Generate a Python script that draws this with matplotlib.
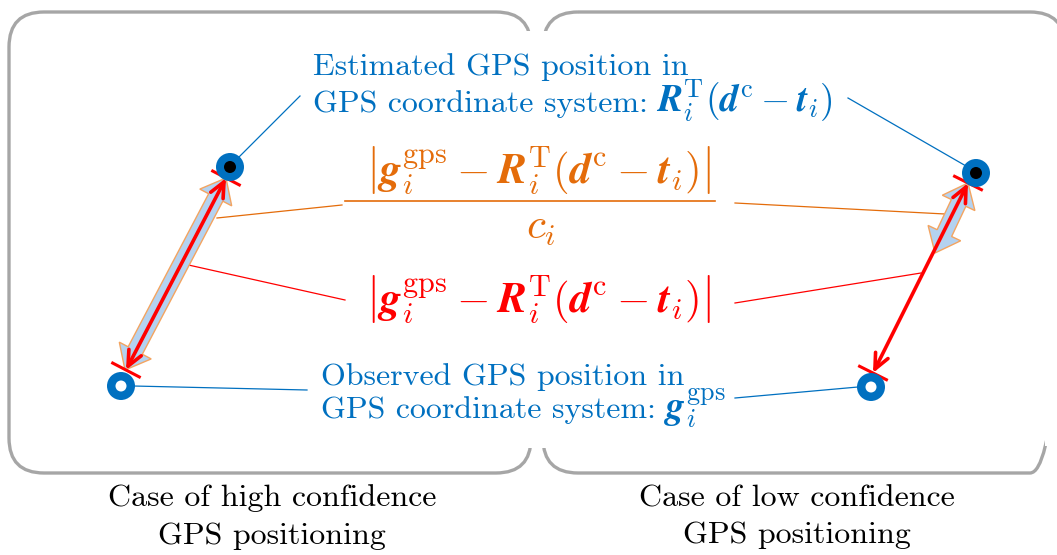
import numpy as np
import matplotlib
matplotlib.use("Agg")
import matplotlib.pyplot as plt
from matplotlib.patches import FancyBboxPatch, Rectangle, Circle, Polygon, FancyArrowPatch

plt.rcParams['font.family'] = 'serif'
plt.rcParams['font.serif'] = ['cmr10']
plt.rcParams['mathtext.fontset'] = 'cm'
plt.rcParams['axes.formatter.use_mathtext'] = True

BLUE = '#0070C0'
ORANGE = '#E46C0A'
RED = '#FF0000'
GREY = '#A6A6A6'

# panels (pixel units)
panel_x = [9, 543]
panel_w = [522, 522]
panel_top, panel_bottom = 12, 473

# gps points: estimated (black centre) and observed (white centre)
estimated_pts = [(230, 167), (976, 173)]
observed_pts = [(121, 386), (871, 387)]

# weighted error (block arrows) and raw error (red arrows)
block_arrows = [((226, 178), (125, 370)), ((968, 183), (935, 253))]
red_arrows = [((226, 178), (126, 370)), ((968, 183), (873, 373))]

# leader lines
blue_leaders = [((236, 160), (300, 96)), ((848, 98), (966, 166)),
                ((133, 386), (307, 390)), ((735, 398), (858, 387))]
orange_leaders = [((217, 218), (342, 205)), ((735, 203), (945, 214))]
red_leaders = [((184, 264), (345, 300)), ((735, 303), (921, 273))]

captions = ['Case of high confidence\nGPS positioning',
            'Case of low confidence\nGPS positioning']
caption_x = [272, 797]

est_text = ['Estimated GPS position in', 'GPS coordinate system:']
est_math = r'$\mathbfit{R}_i^{\mathrm{T}}(\mathbfit{d}^{\mathrm{c}}-\mathbfit{t}_i)$'
obs_text = ['Observed GPS position in', 'GPS coordinate system:']
obs_math = r'$\mathbfit{g}_i^{\mathrm{gps}}$'
err = r'$\left|\mathbfit{g}_i^{\mathrm{gps}}-\mathbfit{R}_i^{\mathrm{T}}(\mathbfit{d}^{\mathrm{c}}-\mathbfit{t}_i)\right|$'


def block_arrow(p0, p1, w=8, hw=18, hl=22):
    p0, p1 = np.array(p0, float), np.array(p1, float)
    u = (p1 - p0) / np.linalg.norm(p1 - p0)
    n = np.array([-u[1], u[0]])
    a, b = p0 + u * hl, p1 - u * hl
    return [p0, a + n * hw, a + n * w, b + n * w, b + n * hw, p1,
            b - n * hw, b - n * w, a - n * w, a - n * hw]


fig = plt.figure(figsize=(10.57, 5.55), dpi=100)
ax = fig.add_axes([0, 0, 1, 1])
ax.set_xlim(0, 1057)
ax.set_ylim(555, 0)
ax.axis('off')
renderer = fig.canvas.get_renderer()

for x, w in zip(panel_x, panel_w):
    ax.add_patch(FancyBboxPatch((x + 35, panel_top + 35), w - 70, panel_bottom - panel_top - 70,
                                boxstyle='round,pad=35', fc='none', ec=GREY, lw=2.4, zorder=1))
# the shared middle edge and the far right edge are not drawn in the reference
ax.add_patch(Rectangle((520, 31), 37, 417, fc='white', ec='none', zorder=2))
ax.add_patch(Rectangle((1045, 36), 20, 410, fc='white', ec='none', zorder=2))

for lines, c in [(blue_leaders, BLUE), (orange_leaders, ORANGE), (red_leaders, RED)]:
    for (x0, y0), (x1, y1) in lines:
        ax.plot([x0, x1], [y0, y1], color=c, lw=0.9, zorder=3)

for p0, p1 in block_arrows:
    ax.add_patch(Polygon(block_arrow(p0, p1), closed=True, fc='#B4D2F0', ec='#F4A460',
                         lw=1.0, zorder=4))

for p0, p1 in red_arrows:
    ax.add_patch(FancyArrowPatch(p0, p1, arrowstyle='<->,head_length=11,head_width=5',
                                 color=RED, lw=2.6, shrinkA=0, shrinkB=0, zorder=5))
    d = np.array(p1, float) - np.array(p0, float)
    d /= np.linalg.norm(d)
    n = np.array([-d[1], d[0]]) * 15
    for p in (p0, p1):
        ax.plot([p[0] - n[0], p[0] + n[0]], [p[1] - n[1], p[1] + n[1]],
                color=RED, lw=2.2, zorder=5)

for p in estimated_pts:
    ax.add_patch(Circle(p, 14, fc=BLUE, ec='none', zorder=6))
    ax.add_patch(Circle(p, 6, fc='black', ec='none', zorder=6))
for p in observed_pts:
    ax.add_patch(Circle(p, 14, fc=BLUE, ec='none', zorder=6))
    ax.add_patch(Circle(p, 5.5, fc='white', ec='none', zorder=6))


def label(x, y0, y1, lines, math):
    ax.text(x, y0, lines[0], color=BLUE, fontsize=23, va='baseline', zorder=7)
    t = ax.text(x, y1, lines[1], color=BLUE, fontsize=23, va='baseline', zorder=7)
    bb = t.get_window_extent(renderer)
    x_end = ax.transData.inverted().transform((bb.x1, 0))[0]
    ax.text(x_end + 8, y1, math, color=BLUE, fontsize=27, va='baseline', zorder=7)


label(313, 75, 112, est_text, est_math)
label(321, 385, 418, obs_text, obs_math)

ax.text(538, 171, err, color=ORANGE, fontsize=31, ha='center', va='center', zorder=7)
ax.plot([345, 715], [201, 201], color=ORANGE, lw=1.2, zorder=7)
ax.text(541, 229, r'$c_i$', color=ORANGE, fontsize=31, ha='center', va='center', zorder=7)
ax.text(538, 300, err, color=RED, fontsize=31, ha='center', va='center', zorder=7)

for x, t in zip(caption_x, captions):
    ax.text(x, 517, t, color='black', fontsize=23, ha='center', va='center',
            linespacing=1.45, zorder=7)

fig.savefig('out.png', dpi=100)
